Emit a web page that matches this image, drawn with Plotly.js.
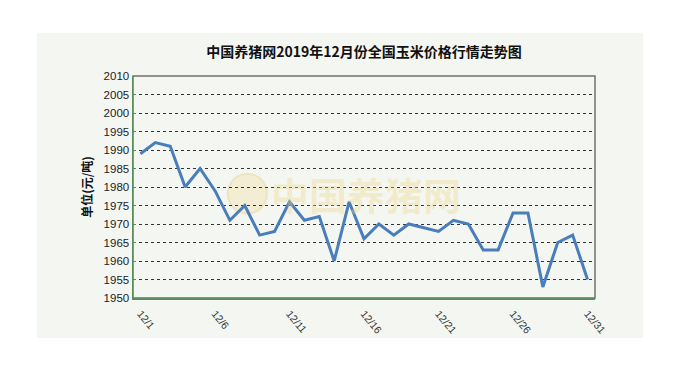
<!DOCTYPE html>
<html>
<head>
<meta charset="utf-8">
<script src="https://cdn.plot.ly/plotly-3.0.1.min.js"></script>
<style>html,body{margin:0;padding:0;background:#fff;}#chart{width:680px;height:370px;}</style>
</head>
<body>
<div id="chart"></div>
<script>
const days = ["12/1","12/2","12/3","12/4","12/5","12/6","12/7","12/8","12/9","12/10",
  "12/11","12/12","12/13","12/14","12/15","12/16","12/17","12/18","12/19","12/20",
  "12/21","12/22","12/23","12/24","12/25","12/26","12/27","12/28","12/29","12/30","12/31"];
const prices = [1989,1992,1991,1980,1985,1979,1971,1975,1967,1968,
  1976,1971,1972,1960,1976,1966,1970,1967,1970,1969,
  1968,1971,1970,1963,1963,1973,1973,1953,1965,1967,1955];
const tickLabels = ["12/1","12/6","12/11","12/16","12/21","12/26","12/31"];
const boundaryTicks = [4.5,9.5,14.5,19.5,24.5,29.5];

const green = '#5b8c5a';
const panel = '#f4f6f2';

const trace = {
  x: days, y: prices, type: 'scatter', mode: 'lines',
  line: {color: '#4a7ebb', width: 3},
  hoverinfo: 'x+y', showlegend: false
};

const layout = {
  width: 680, height: 370,
  margin: {l: 133, r: 85, t: 76, b: 72},
  paper_bgcolor: '#ffffff',
  plot_bgcolor: panel,
  font: {family: 'Liberation Sans, Arial, sans-serif', color: '#222'},
  title: {
    text: '中国养猪网2019年12月份全国玉米价格行情走势图',
    font: {family: 'Noto Sans CJK SC, sans-serif', size: 14, color: '#111', weight: 'bold'},
    x: 0.5, xanchor: 'center', xref: 'paper',
    y: 0.859, yref: 'container', yanchor: 'middle'
  },
  xaxis: {
    type: 'category',
    range: [-0.5, 30.5],
    tickmode: 'array', tickvals: tickLabels, ticktext: tickLabels,
    ticks: '', tickangle: 50, ticklabelstandoff: 4,
    tickfont: {size: 10.5, color: '#333'},
    showgrid: false, zeroline: false,
    showline: true, linecolor: green, linewidth: 1.5,
    fixedrange: true
  },
  xaxis2: {
    overlaying: 'x', anchor: 'y', type: 'linear',
    range: [-0.5, 30.5],
    tickmode: 'array', tickvals: boundaryTicks,
    ticks: 'inside', ticklen: 4, tickcolor: green, tickwidth: 1,
    showticklabels: false, showgrid: false, zeroline: false, showline: false
  },
  yaxis: {
    range: [1950, 2010],
    tickmode: 'linear', tick0: 1950, dtick: 5,
    ticks: 'inside', ticklen: 3, tickcolor: green,
    tickfont: {size: 11.5, color: '#222'},
    showgrid: true, gridcolor: '#333', griddash: 'dot', gridwidth: 1,
    zeroline: false,
    showline: true, linecolor: green, linewidth: 1.5,
    title: {text: '单位(元/吨)', font: {family: 'Noto Sans CJK SC, sans-serif', size: 12, color: '#111', weight: 'bold'}, standoff: 8},
    fixedrange: true
  },
  shapes: [
    {type: 'rect', xref: 'paper', yref: 'paper', x0: -0.2078, x1: 1.1039, y0: -0.1802, y1: 1.1937,
     fillcolor: panel, line: {width: 0}, layer: 'below'},
    {type: 'rect', xref: 'paper', yref: 'paper', x0: 0, x1: 1, y0: 0, y1: 1,
     fillcolor: 'rgba(0,0,0,0)', line: {color: '#707070', width: 1.5}, layer: 'below'},
    {type: 'circle', xref: 'paper', yref: 'paper', x0: 0.205, x1: 0.29, y0: 0.38, y1: 0.56,
     fillcolor: 'rgba(240,215,120,0.25)', line: {color: 'rgba(220,200,120,0.3)', width: 2}, layer: 'below'}
  ],
  annotations: [
    {text: '中国养猪网', xref: 'paper', yref: 'paper', x: 0.505, y: 0.47,
     xanchor: 'center', yanchor: 'middle', showarrow: false,
     font: {family: 'Noto Sans CJK SC, sans-serif', size: 38, color: 'rgba(240,215,130,0.35)', weight: 'bold'}}
  ]
};

Plotly.newPlot('chart', [trace], layout, {displayModeBar: false, staticPlot: true});
</script>
</body>
</html>
